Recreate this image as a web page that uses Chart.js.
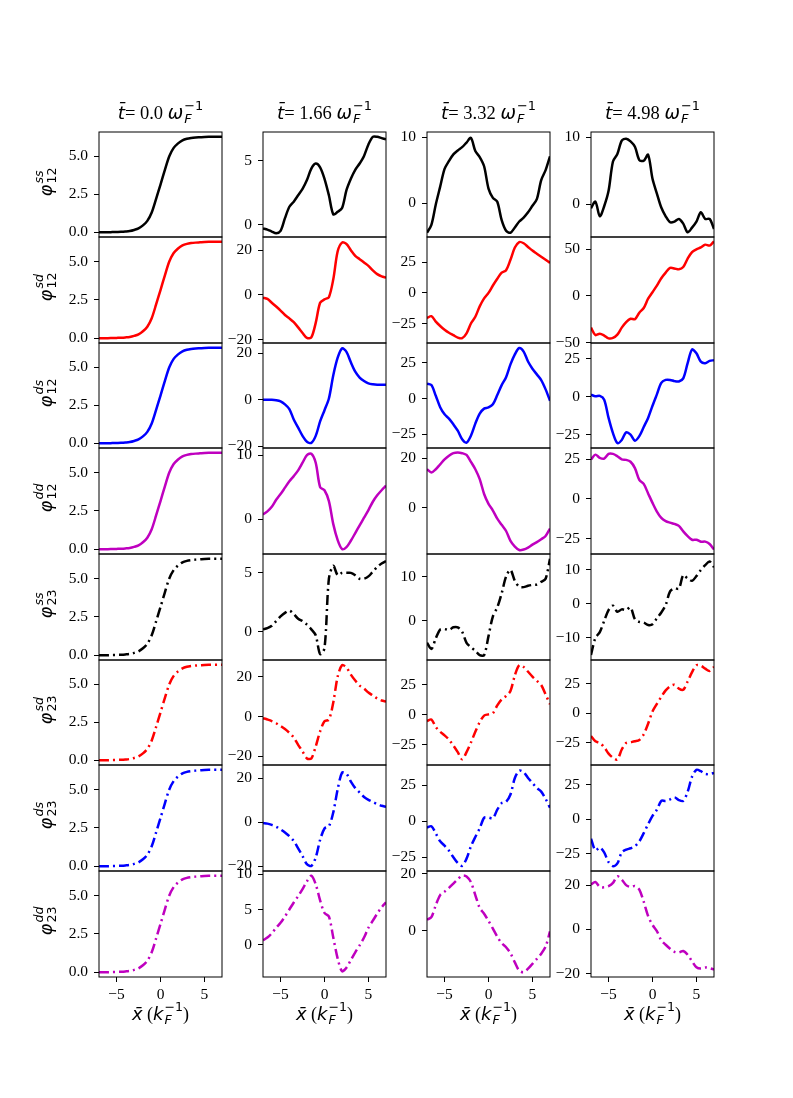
<!DOCTYPE html>
<html lang="en">
<head>
<meta charset="UTF-8">
<title>Phase profiles</title>
<script src="https://cdn.jsdelivr.net/npm/chart.js@4.4.0/dist/chart.umd.min.js"></script>
<style>
  body { margin: 0; background: #fff; }
  #fig { position: relative; width: 793px; height: 1098px; overflow: hidden; }
  canvas.panel { position: absolute; }
  .txt { position: absolute; font-family: "Liberation Serif", serif; white-space: nowrap; color: #000; }
  .ttl { width: 200px; text-align: center; font-size: 18.5px; line-height: 24px; }
  .xl { width: 200px; text-align: center; font-size: 18px; line-height: 24px; }
  .yl { font-size: 18px; line-height: 24px; transform: translate(-50%, -50%) rotate(-90deg); }
  .m { font-family: "DejaVu Sans", sans-serif; font-style: italic; }
  .stk { display: inline-block; vertical-align: -0.32em; line-height: 1; font-size: 0.7em;
         font-family: "DejaVu Sans", sans-serif; margin-left: 1px; text-align: left; }
  .stk > span { display: block; }
</style>
</head>
<body>
<div id="fig"></div>
<script>
// shared x grid (k_F^-1)
const xGrid = [-7,-6.5,-6,-5.5,-5,-4.5,-4,-3.5,-3,-2.5,-2,-1.5,-1,-0.5,0,0.5,1,1.5,2,2.5,3,3.5,4,4.5,5,5.5,6,6.5,7];
const xTicks = [-5, 0, 5];

const times = ['0.0', '1.66', '3.32', '4.98'];
const rowSup = ['ss', 'sd', 'ds', 'dd', 'ss', 'sd', 'ds', 'dd'];
const rowSub = ['12', '12', '12', '12', '23', '23', '23', '23'];

// t = 0.0 : every component starts from the same 0 -> 2pi kink
const step_t000 = [0,0,0,0.01,0.02,0.03,0.05,0.08,0.15,0.25,0.45,0.75,1.3,2.2,3.14,4.1,5.0,5.55,5.85,6.05,6.15,6.2,6.23,6.25,6.27,6.28,6.28,6.28,6.28];

// t = 1.66
const ss12_t166 = [-0.3,-0.4,-0.55,-0.68,-0.5,0.5,1.4,1.8,2.3,2.8,3.5,4.4,4.8,4.5,3.6,2.3,0.8,1.0,1.3,2.7,3.6,4.3,4.8,5.4,6.3,6.9,6.9,6.8,6.7];
const sd12_t166 = [-1.2,-1.8,-3.5,-5.2,-7,-9,-10.5,-12.2,-14.5,-17,-19.2,-19,-12.5,-3.5,-2,-1,7,19.5,23.4,22.8,20,17.5,16,14.5,13,11,9.3,8.3,7.8];
const ds12_t166 = [0,0,0,-0.2,-0.7,-2,-4,-8.5,-12,-15.5,-18,-18.5,-15.5,-9.3,-4.5,0.5,10.5,18,22,20.5,16,12,9.5,8,7,6.6,6.4,6.4,6.4];
const dd12_t166 = [0.7,1.2,1.9,3,3.9,4.9,5.9,6.7,7.6,8.8,10,10.2,8.8,5.0,4.5,2.8,-0.8,-3.3,-4.7,-4.4,-3.4,-2.2,-1,0.2,1.4,2.7,3.7,4.5,5.2];
const ss23_t166 = [0.2,0.3,0.5,0.9,1.3,1.6,1.8,1.5,1.1,0.9,0.6,0.2,-0.3,-1.9,-1.4,4.5,5.6,4.8,5.0,5.0,5.0,4.8,4.5,4.5,4.7,5.1,5.5,5.8,6.0];
const sd23_t166 = [-0.8,-1.5,-2.3,-3.4,-4.8,-6.3,-8.2,-10.5,-14.2,-17.5,-21,-21,-15,-7.5,-2.4,-1.6,7,20,25.7,24.5,21,18,15.5,14,12,10.5,9,8,7.5];
const ds23_t166 = [-0.3,-0.6,-1.2,-2.0,-3.2,-4.6,-6.3,-8.5,-11.8,-15.3,-19,-19.8,-16,-8,-2.8,-1.8,4.5,15,22.5,22,18.5,15.5,13.5,11.5,10.2,9.2,8.3,7.5,7];
const dd23_t166 = [0.6,1.0,1.6,2.4,3.1,4.0,5.0,6.0,6.9,7.9,9.0,9.8,8.6,6.3,4.5,4.0,1.0,-2.0,-3.8,-3.3,-2.2,-1.1,-0.1,1.0,2.4,3.4,4.4,5.3,6.0];

// t = 3.32
const ss12_t332 = [-4.5,-3.3,-0.2,2.5,5.2,6.4,7.4,8,8.5,9.2,9.9,7.9,7.0,5.6,2.2,0.8,0.2,-2.6,-4.2,-4.5,-3.7,-2.8,-2.2,-1.4,-0.4,0.6,3.5,5.0,7.1];
const sd12_t332 = [-20.5,-19,-23.5,-27,-30,-32.5,-34.5,-36.5,-37,-33,-25,-19.5,-11,-4.5,0,6,11.5,16.5,18.5,27,37,41.5,40.5,37.5,34.5,32,29.5,27,24.5];
const ds12_t332 = [10.5,9.5,2,-6,-11,-14,-18,-22.5,-28.5,-30.8,-26,-17.5,-10.5,-7,-6.2,-4,2.5,9.5,15,24,31,35.5,33,26,21,17,13,6.5,-1.5];
const dd12_t332 = [15.5,14.2,15.5,17.5,19.5,21,22,22.3,22,21.3,18.5,15.5,11.5,5.5,1.5,-1.2,-4.5,-7,-9.5,-13.5,-15.8,-17.2,-17,-16.2,-15,-14,-12.8,-11.5,-8.5];
const ss23_t332 = [-5,-6.4,-4,-2,-1.9,-2.1,-1.5,-1.5,-2.5,-5,-6,-6.8,-7.8,-7.8,-3.5,1,3,6.2,10,11.5,9,7.7,7.6,7.9,8.1,8.2,8.8,9.5,14];
const sd23_t332 = [-5,-3.8,-10,-14,-17,-20.5,-25.5,-31,-37,-31,-23,-14,-6,-0.5,0.5,1.5,8,13,15.8,20,33,41.5,40,36,32,28.5,25,17,8.9];
const ds23_t332 = [-4.5,-3.5,-8.5,-14,-17,-20.5,-25,-29,-31,-26,-17.5,-11,-5,2.3,2.5,2,8,12.5,13.5,18.5,30,35,34,30,26.5,23,20.5,15.5,9.3];
const dd23_t332 = [3.9,4.8,9,12.5,13.7,15,16.5,18,19.3,19,17,12.5,8,6,3.5,0.8,-2,-4.3,-5.7,-7.8,-11,-13.9,-14.4,-13.2,-11.5,-9.8,-8,-5.5,-0.2];

// t = 4.98
const ss12_t498 = [-0.6,0.4,-1.8,-0.3,2.0,6.4,7.5,9.5,9.8,9.4,8.6,6.6,6.5,7.4,3.8,1.6,-0.5,-1.8,-2.7,-2.6,-2.2,-2.9,-4.2,-3.5,-2.6,-1.2,-2.2,-2.2,-3.7];
const sd12_t498 = [-34,-42,-40.5,-42.5,-45.5,-45,-41.5,-34,-28,-24.5,-25,-18,-13,-3,4,11,19,25,30,29.5,28.5,31,40,47,50,52,55,54,58.5];
const ds12_t498 = [1.3,0.2,0.5,-2,-14,-24,-30.5,-28.5,-23.5,-25,-29,-26,-20,-14,-6,1.5,9,11,11,10.2,10,12,22,31,28.5,23,22,23.5,24];
const dd12_t498 = [25,28,26,25.5,28.5,28.5,27,25,24.7,23.5,19.5,12,9.5,3.5,-2.5,-8,-12,-14,-15,-15.8,-17,-20.5,-23.5,-25.8,-25.8,-27,-27,-28.5,-32];
const ss23_t498 = [-15,-10,-8.3,-5,-1.8,-0.5,-2.3,-1.6,-1.8,-1,-4.5,-5.3,-5.5,-6.2,-6,-4.2,-2.5,-0.3,3.7,4.6,4.5,8.5,7.5,6.8,8.2,10,11.4,12.5,10.8];
const sd23_t498 = [-19.5,-24,-25.4,-29,-34.5,-38,-39.5,-31,-25.5,-24.8,-24,-22.8,-18,-9,1.5,8,14,19.5,23,24.3,21,20,27,35,41,40.5,38,36,39.6];
const ds23_t498 = [-14,-22.5,-20.5,-24,-31,-34,-32,-24,-22,-21,-19.5,-16,-10,-3.5,2.5,7,13.5,13.3,14.5,16,14,13.5,20,31,36,35,33,33,33.8];
const dd23_t498 = [20.3,21.4,19.2,19,19.5,21,24,22.5,20,19.2,19.6,18,12.5,6,2,-0.8,-5,-7,-8.8,-10.2,-10.5,-9.8,-11.5,-14.5,-17.2,-17.8,-17.3,-17.6,-18.2];

// y limits and ticks, one entry per row
const yLim_t000 = [[-0.314,6.597],[-0.314,6.597],[-0.314,6.597],[-0.314,6.597],[-0.314,6.597],[-0.314,6.597],[-0.314,6.597],[-0.314,6.597]];
const yLim_t166 = [[-0.98,7.28],[-21.5,25.9],[-20.7,24.3],[-5.47,11.1],[-2.4,6.6],[-24.3,28.3],[-22.1,26],[-4.62,10.48]];
const yLim_t332 = [[-5.15,10.8],[-40.9,45.6],[-34.6,39],[-18.8,24.1],[-8.9,15.1],[-41.7,45.8],[-34.6,39],[-16.1,20.9]];
const yLim_t498 = [[-4.9,10.8],[-50.5,63.2],[-33.8,35.3],[-34.8,32.2],[-16.5,14.7],[-44.2,45.4],[-37.5,39.5],[-21.6,26.4]];

const yTicks_t000 = [[0,2.5,5],[0,2.5,5],[0,2.5,5],[0,2.5,5],[0,2.5,5],[0,2.5,5],[0,2.5,5],[0,2.5,5]];
const yTicks_t166 = [[0,5],[-20,0,20],[-20,0,20],[0,10],[0,5],[-20,0,20],[-20,0,20],[0,5,10]];
const yTicks_t332 = [[0,10],[-25,0,25],[-25,0,25],[0,20],[0,10],[-25,0,25],[-25,0,25],[0,20]];
const yTicks_t498 = [[0,10],[-50,0,50],[-25,0,25],[-25,0,25],[-10,0,10],[-25,0,25],[-25,0,25],[-20,0,20]];

const series = [
  [step_t000, step_t000, step_t000, step_t000, step_t000, step_t000, step_t000, step_t000],
  [ss12_t166, sd12_t166, ds12_t166, dd12_t166, ss23_t166, sd23_t166, ds23_t166, dd23_t166],
  [ss12_t332, sd12_t332, ds12_t332, dd12_t332, ss23_t332, sd23_t332, ds23_t332, dd23_t332],
  [ss12_t498, sd12_t498, ds12_t498, dd12_t498, ss23_t498, sd23_t498, ds23_t498, dd23_t498]
];
const yLims = [yLim_t000, yLim_t166, yLim_t332, yLim_t498];
const yTicks = [yTicks_t000, yTicks_t166, yTicks_t332, yTicks_t498];
const rowColors = ['#000000', '#ff0000', '#0000ff', '#bf00bf'];

// layout of the grid
const colLeft = [99, 263, 427, 591];
const plotW = 123, plotH = 105.6, top0 = 131.7;
const padL = 60, padT = 10, padR = 10, padB = 10, xAxisH = 34;
const tickFont = { family: 'Liberation Serif', size: 15.5 };

const fig = document.getElementById('fig');
const minus = s => String(s).replace('-', '\u2212');

const boxPlugin = {
  id: 'box',
  afterDraw(chart) {
    const { ctx, chartArea: a } = chart;
    ctx.save();
    ctx.strokeStyle = '#000';
    ctx.lineWidth = 1;
    ctx.strokeRect(a.left, a.top, a.right - a.left, a.bottom - a.top);
    ctx.restore();
  }
};

function addText(cls, html, left, top) {
  const d = document.createElement('div');
  d.className = 'txt ' + cls;
  d.innerHTML = html;
  d.style.left = left + 'px';
  d.style.top = top + 'px';
  fig.appendChild(d);
}

for (let c = 0; c < 4; c++) {
  for (let r = 0; r < 8; r++) {
    const bottomRow = r === 7;
    const rowTop = Math.round(top0 + r * plotH);
    const rowBot = Math.round(top0 + (r + 1) * plotH);
    const cv = document.createElement('canvas');
    cv.className = 'panel';
    cv.width = padL + plotW + padR;
    cv.height = padT + (rowBot - rowTop) + (bottomRow ? xAxisH : padB);
    cv.style.left = (colLeft[c] - padL) + 'px';
    cv.style.top = (rowTop - padT) + 'px';
    fig.appendChild(cv);

    const ys = series[c][r];
    const yt = yTicks[c][r];
    new Chart(cv, {
      type: 'line',
      data: {
        datasets: [{
          data: xGrid.map((x, i) => ({ x: x, y: ys[i] })),
          borderColor: rowColors[r % 4],
          borderWidth: 2.5,
          borderDash: r >= 4 ? [10, 4, 2, 4] : [],
          pointRadius: 0,
          tension: 0.3,
          fill: false,
          clip: 0
        }]
      },
      options: {
        responsive: false,
        animation: false,
        devicePixelRatio: 1,
        layout: { padding: { left: 0, top: padT, right: padR, bottom: bottomRow ? 0 : padB } },
        plugins: { legend: { display: false }, tooltip: { enabled: false } },
        scales: {
          x: {
            type: 'linear', min: -7, max: 7, bounds: 'data',
            display: bottomRow,
            afterBuildTicks: s => { s.ticks = xTicks.map(v => ({ value: v })); },
            afterFit: s => {
              s.height = bottomRow ? xAxisH : 0;
              s.paddingLeft = 0; s.paddingRight = 0;
            },
            ticks: { font: tickFont, color: '#000', padding: 4, maxRotation: 0, autoSkip: false,
                     callback: v => minus(v) },
            grid: { drawOnChartArea: false, drawTicks: true, tickLength: 5, color: '#000' },
            border: { display: false }
          },
          y: {
            type: 'linear', min: yLims[c][r][0], max: yLims[c][r][1], bounds: 'data',
            afterBuildTicks: s => { s.ticks = yt.map(v => ({ value: v })); },
            afterFit: s => { s.width = padL; s.paddingTop = 0; s.paddingBottom = 0; },
            ticks: { font: tickFont, color: '#000', padding: 6, autoSkip: false,
                     callback: v => minus(c === 0 ? v.toFixed(1) : v) },
            grid: { drawOnChartArea: false, drawTicks: true, tickLength: 5, color: '#000' },
            border: { display: false }
          }
        }
      },
      plugins: [boxPlugin]
    });
  }
}

// column titles, axis labels
for (let c = 0; c < 4; c++) {
  const cx = colLeft[c] + plotW / 2;
  addText('ttl', '<span class="m">t\u0304</span>= ' + times[c] + ' <span class="m">\u03c9</span>' +
    '<span class="stk"><span>\u22121</span><span class="m">F</span></span>', cx - 100, 100);
  addText('xl', '<span class="m">x\u0304</span> (<span class="m">k</span>' +
    '<span class="stk"><span>\u22121</span><span class="m">F</span></span>)', cx - 100, 1001);
}
for (let r = 0; r < 8; r++) {
  const cy = top0 + (r + 0.5) * plotH - 3;
  addText('yl', '<span class="m">\u03c6</span><span class="stk"><span class="m">' + rowSup[r] +
    '</span><span>' + rowSub[r] + '</span></span>', 46, cy);
}
</script>
</body>
</html>
